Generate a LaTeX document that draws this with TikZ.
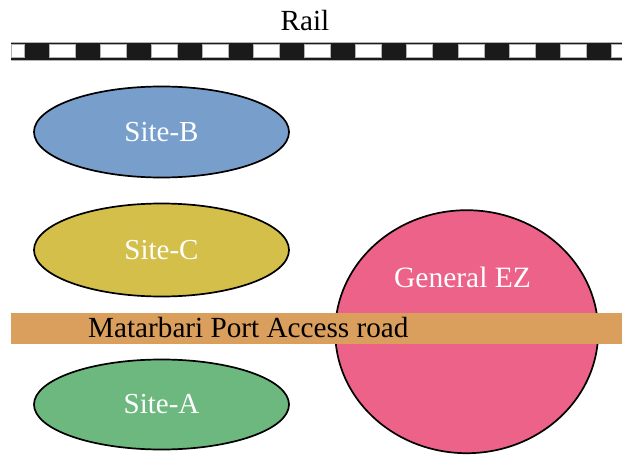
\documentclass[tikz,border=0pt]{standalone}
\usepackage{fontspec}
\setmainfont{Liberation Serif}
\usetikzlibrary{shapes.geometric}
\definecolor{siteB}{HTML}{789FCC}
\definecolor{siteC}{HTML}{D4BF4B}
\definecolor{siteA}{HTML}{6DB87F}
\definecolor{ezpink}{HTML}{EC6289}
\definecolor{road}{HTML}{DA9F5D}
\definecolor{railblack}{HTML}{1A1A1A}
\begin{document}
\begin{tikzpicture}[x=1pt,y=-1pt,
  site/.style={ellipse, draw=black, line width=1.7pt, inner sep=0pt,
    font=\fontsize{29}{31}\selectfont, text=white},
  lbl/.style={inner sep=0pt, font=\fontsize{29.2}{31}\selectfont, text=black},
  sleeper/.style={fill=white, draw=gray!60, line width=0.6pt}]
\useasboundingbox (0,0) rectangle (622,455);
% rail
\node[lbl] (rail) at (305,21) {Rail};
\fill[railblack] (11,42) rectangle (622,60);
\draw[gray!60, line width=0.8pt] (11,42) -- (622,42) (11,60) -- (622,60);
\filldraw[sleeper] (11,44.5) rectangle (24,57.5);
\foreach \k in {0,...,10} {
  \filldraw[sleeper] ({49+51.1*\k},44.5) rectangle ++(26,13);
}
\filldraw[sleeper] (611,44.5) rectangle (622,57.5);
% sites
\node[site, fill=siteB, minimum width=255pt, minimum height=91pt] (siteb) at (161.5,132) {Site-B};
\node[site, fill=siteC, minimum width=255pt, minimum height=93pt] (sitec) at (161.5,250) {Site-C};
\node[site, fill=siteA, minimum width=255pt, minimum height=90pt] (sitea) at (161.5,404.5) {Site-A};
\node[site, fill=ezpink, minimum width=263pt, minimum height=243pt] (ez) at (466.7,331.7) {};
\node[site, draw=none, fill=none, font=\fontsize{29.5}{31}\selectfont] (eztext) at (462.5,277.5) {General EZ};
% road
\fill[road] (11,312.5) rectangle (622,344);
\node[lbl, anchor=west] (roadtext) at (88,328) {Matarbari Port Access road};
\end{tikzpicture}
\end{document}
